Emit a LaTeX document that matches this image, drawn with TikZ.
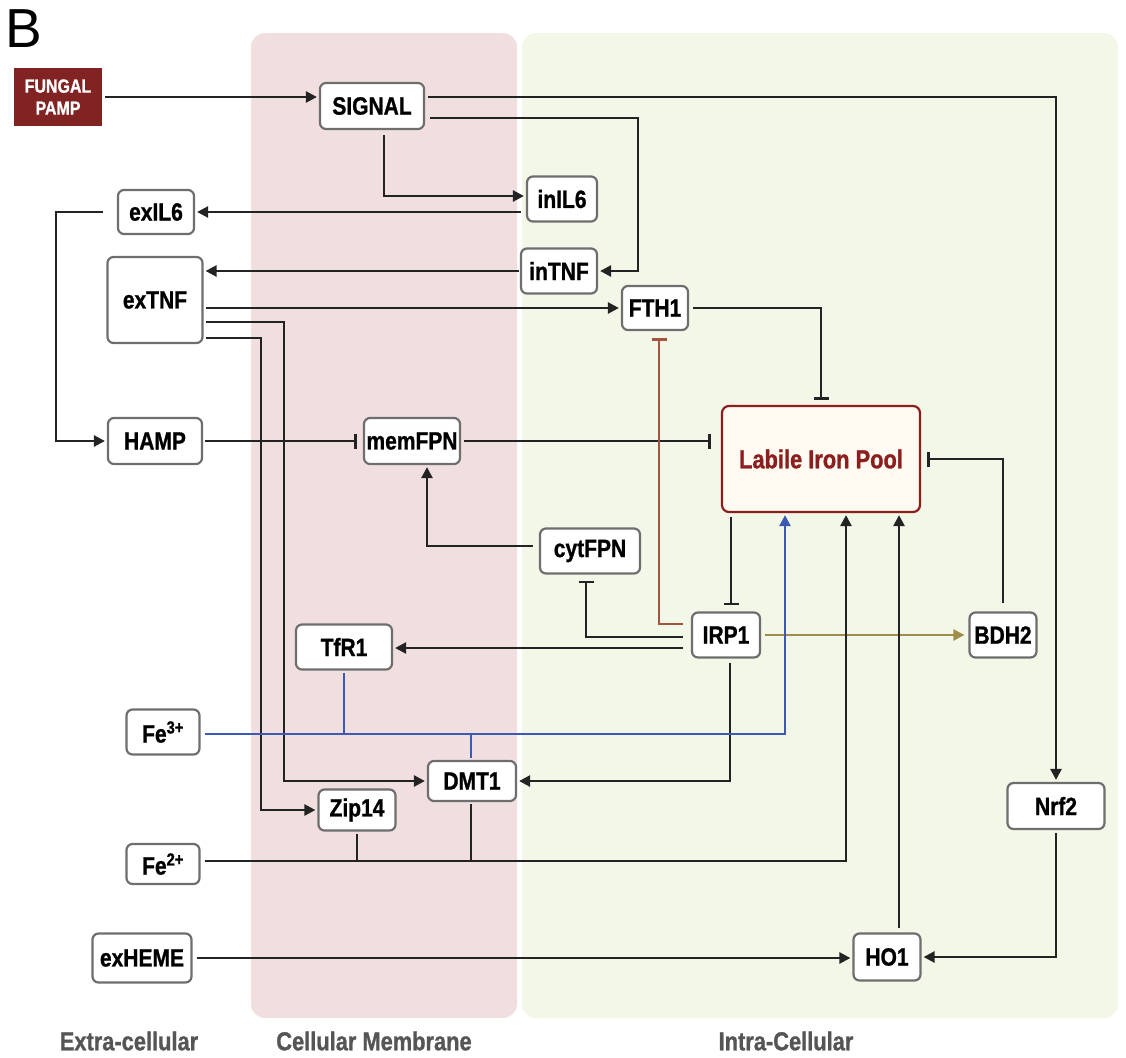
\documentclass[tikz,border=0pt]{standalone}
\usepackage{fontspec}
\setmainfont{Liberation Sans}[FakeStretch=0.84, BoldFeatures={FakeBold=1}]
\newfontfamily\plainsans{Liberation Sans}
\usetikzlibrary{arrows.meta}
\definecolor{memb}{RGB}{241,223,224}
\definecolor{intra}{RGB}{243,247,231}
\definecolor{pampred}{RGB}{130,35,35}
\definecolor{lipred}{RGB}{139,30,30}
\definecolor{lipfill}{RGB}{255,251,242}
\definecolor{boxgray}{RGB}{110,110,110}
\definecolor{linec}{RGB}{35,35,35}
\definecolor{blueline}{RGB}{60,90,180}
\definecolor{brownline}{RGB}{160,85,60}
\definecolor{oliveline}{RGB}{160,140,75}
\definecolor{labgray}{RGB}{85,85,85}
\begin{document}
\begin{tikzpicture}[x=1pt,y=-1pt,
  box/.style={draw=boxgray, line width=2.2pt, rounded corners=6pt, fill=white, inner sep=0pt,
    font=\bfseries\fontsize{25}{27}\selectfont},
  arr/.style={-{Triangle[length=11pt,width=11pt]}, line width=2.5pt, draw=linec, shorten >=2pt},
  inh/.style={-{Bar[width=15pt]}, line width=2.5pt, draw=linec, shorten >=6pt},
  conn/.style={line width=2.5pt, draw=linec},
  region/.style={rounded corners=14pt},
  zone/.style={text=labgray, font=\bfseries\fontsize{26}{28}\selectfont}]
\useasboundingbox (0,0) rectangle (1126,1057);
% regions
\fill[memb, region] (251,33) rectangle (517,1018);
\fill[intra, region] (522,33) rectangle (1118,1018);
\node[anchor=west, font=\plainsans\fontsize{55}{55}\selectfont, inner sep=0pt] (lblB) at (5,29) {B};
\node[zone] (zex) at (129,1041) {Extra-cellular};
\node[zone] (zmem) at (374,1041) {Cellular Membrane};
\node[zone] (zin) at (786,1041) {Intra-Cellular};
% nodes
\node[fill=pampred, text=white, minimum width=88pt, minimum height=58pt, inner sep=0pt, align=center,
  font=\bfseries\fontsize{19}{22}\selectfont] (pamp) at (58,97) {FUNGAL\\PAMP};
\node[box, minimum width=104pt, minimum height=46pt] (signal) at (372,106) {SIGNAL};
\node[box, minimum width=70pt, minimum height=45pt] (inil6) at (562,199) {inIL6};
\node[box, minimum width=76pt, minimum height=44pt] (exil6) at (156,212) {exIL6};
\node[box, minimum width=76pt, minimum height=45pt] (intnf) at (559,271) {inTNF};
\node[box, minimum width=95pt, minimum height=86pt] (extnf) at (155,300) {exTNF};
\node[box, minimum width=66pt, minimum height=44pt] (fth1) at (655,308) {FTH1};
\node[box, minimum width=94pt, minimum height=46pt] (hamp) at (155,441) {HAMP};
\node[box, minimum width=96pt, minimum height=46pt] (memfpn) at (412,441) {memFPN};
\node[draw=lipred, fill=lipfill, line width=2.2pt, rounded corners=7pt, text=lipred,
  minimum width=198pt, minimum height=106pt, font=\bfseries\fontsize{26}{28}\selectfont] (lip) at (821,459) {Labile Iron Pool};
\node[box, minimum width=100pt, minimum height=45pt] (cytfpn) at (590,551) {cytFPN};
\node[box, minimum width=68pt, minimum height=45pt] (irp1) at (726,635) {IRP1};
\node[box, minimum width=67pt, minimum height=45pt] (bdh2) at (1003,635) {BDH2};
\node[box, minimum width=96pt, minimum height=45pt] (tfr1) at (344,647) {TfR1};
\node[box, minimum width=73pt, minimum height=45pt] (fe3) at (163,732) {Fe\textsuperscript{3+}};
\node[box, minimum width=88pt, minimum height=40pt] (dmt1) at (472,781) {DMT1};
\node[box, minimum width=77pt, minimum height=41pt] (zip14) at (357,810) {Zip14};
\node[box, minimum width=73pt, minimum height=40pt] (fe2) at (163,864) {Fe\textsuperscript{2+}};
\node[box, minimum width=97pt, minimum height=46pt] (nrf2) at (1056,806) {Nrf2};
\node[box, minimum width=99pt, minimum height=49pt] (exheme) at (142,958) {exHEME};
\node[box, minimum width=67pt, minimum height=47pt] (ho1) at (887,957) {HO1};
% connectors
\draw[arr, shorten <=3pt] (pamp.east) -- (pamp.east -| signal.west);
\draw[arr, shorten <=3pt] ([yshift=9pt]signal.east) -| (nrf2.north);
\draw[arr, shorten <=5pt] ([yshift=-12pt]signal.east) -| ([xshift=40pt]intnf.east) |- (intnf.east);
\draw[arr, shorten <=5pt] ([xshift=12pt]signal.south) |- ([yshift=3pt]inil6.west);
\draw[arr] ([xshift=-5pt,yshift=-13pt]inil6.west) -- ([yshift=-13pt]inil6.west -| exil6.east);
\draw[arr, shorten <=1pt] (intnf.west) -- (intnf.west -| extnf.east);
\draw[arr, shorten <=2pt] (fth1.west -| extnf.east) -- (fth1.west);
\draw[arr, shorten <=2pt] ([yshift=-22pt]extnf.east) -- ++(80.5,0) |- (dmt1.west);
\draw[arr, shorten <=2pt] ([yshift=-38pt]extnf.east) -- ++(57.5,0) |- (zip14.west);
\draw[arr, shorten <=14pt] (exil6.west) -- ++(-61,0) |- (hamp.west);
\draw[inh, shorten <=2pt] (hamp.east) -- (memfpn.west);
\draw[inh, shorten <=3pt, shorten >=10pt] (memfpn.east) -- (memfpn.east -| lip.west);
\draw[inh, shorten <=4pt, shorten >=5pt] (fth1.east) -| (lip.north);
\draw[inh, shorten <=8pt, shorten >=6pt] (bdh2.north) |- (lip.east);
\draw[arr, shorten <=6pt] ([yshift=5pt]cytfpn.west) -| ([xshift=15pt]memfpn.south);
\draw[conn, brownline, -{Bar[width=15pt]}, shorten <=8pt, shorten >=7pt] ([yshift=11pt]irp1.west) -| ([xshift=4pt]fth1.south);
\draw[inh, shorten <=8pt] ([yshift=-2pt]irp1.west) -| ([xshift=-4pt]cytfpn.south);
\draw[arr, shorten <=8pt] ([yshift=-13pt]irp1.west) -- ([yshift=-13pt]irp1.west -| tfr1.east);
\draw[arr, shorten <=4pt] ([xshift=4pt]irp1.south) |- (dmt1.east);
\draw[inh, shorten <=4pt] ([xshift=5pt]irp1.north |- lip.south) -- ([xshift=5pt]irp1.north);
\draw[conn, oliveline, -{Triangle[length=11pt,width=11pt]}, shorten <=4pt, shorten >=4pt] (irp1.east) -- (bdh2.west);
\draw[arr, shorten <=4pt] ([xshift=12pt]ho1.north) -- ([xshift=12pt]ho1.north |- lip.south);
\draw[arr, shorten <=3pt] (nrf2.south) |- (ho1.east);
\draw[arr, shorten <=4pt] (exheme.east) -- (exheme.east -| ho1.west);
% Fe2+ pathway
\draw[arr, shorten <=4pt] ([yshift=3pt]fe2.east) -| ([xshift=25pt]lip.south);
\draw[conn, shorten <=2pt] (zip14.south) -- ([yshift=3pt]zip14.south |- fe2.east);
\draw[conn, shorten <=2pt] ([xshift=-1pt]dmt1.south) -- ([xshift=-1pt,yshift=3pt]dmt1.south |- fe2.east);
% Fe3+ pathway
\draw[conn, blueline, -{Triangle[length=11pt,width=11pt]}, shorten <=4pt, shorten >=2pt] ([yshift=-2pt]fe3.east) -| ([xshift=-36pt]lip.south);
\draw[conn, blueline, shorten <=2pt] (tfr1.south) -- ([yshift=-2pt]tfr1.south |- fe3.east);
\draw[conn, blueline, shorten <=2pt] ([xshift=-1pt]dmt1.north) -- ([xshift=-1pt,yshift=-2pt]dmt1.north |- fe3.east);
\end{tikzpicture}
\end{document}
